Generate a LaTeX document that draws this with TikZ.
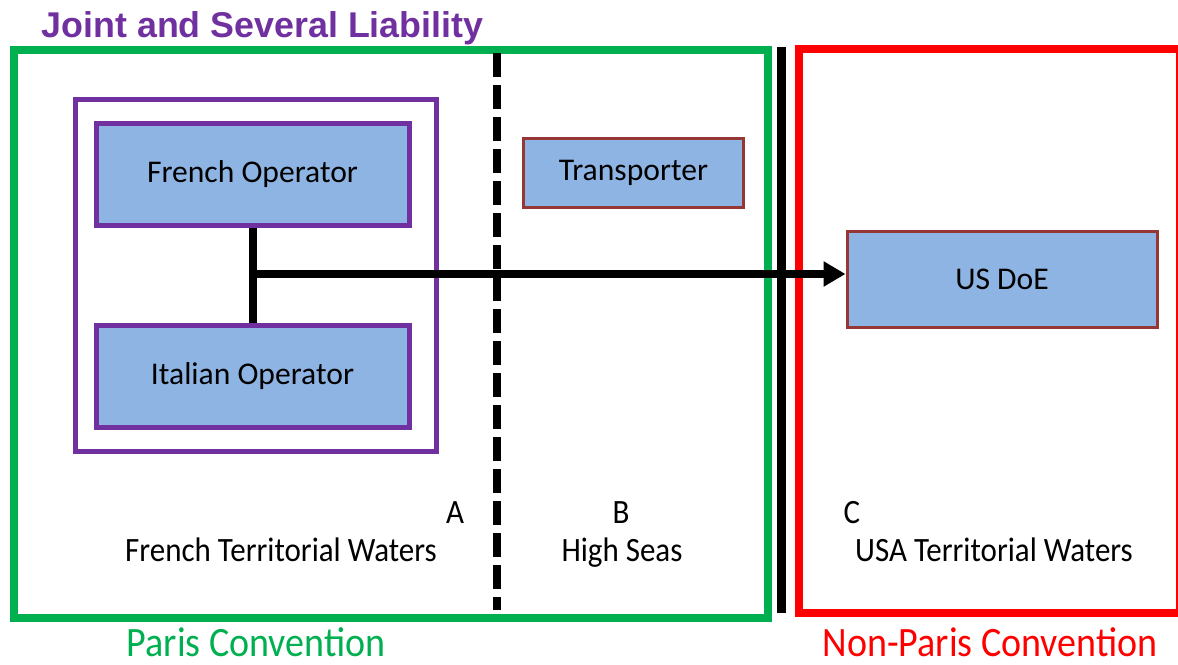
\documentclass[tikz,border=0pt]{standalone}
\usepackage{fontspec}
\setmainfont{Carlito}
\newfontfamily\headfont{Liberation Sans}
\usepackage{tikz}
\usetikzlibrary{arrows.meta}

\definecolor{opblue}{HTML}{8EB4E3}
\definecolor{jointpurple}{HTML}{7030A0}
\definecolor{parisgreen}{HTML}{00B050}
\definecolor{partybrown}{HTML}{953735}
\newcommand{\tall}[1]{\scalebox{1}[1.1]{#1}}

\begin{document}
\begin{tikzpicture}[
		x=0.5pt, y=-0.5pt,
		every node/.style={inner sep=0pt, font=\fontsize{15.8}{18}\selectfont},
		operator/.style={rectangle, draw=jointpurple, fill=opblue, line width=2.5pt,
			minimum width=156.5pt, minimum height=51pt},
		party/.style={rectangle, draw=partybrown, fill=opblue, line width=1.5pt},
		waters/.style={anchor=base, font=\fontsize{15.5}{18}\selectfont},
		convention/.style={anchor=base, font=\fontsize{19}{22}\selectfont}
	]
  \useasboundingbox (0,0) rectangle (1178,664);

  % zones
  \draw [parisgreen, line width=4pt] (14,49.5) rectangle (767.5,618);
  \draw [red, line width=3.75pt] (799,49) rectangle (1180,613);
  \draw [line width=4.5pt] (781.5,47) -- (781.5,613);
  \draw [line width=4pt, dash pattern=on 12pt off 4pt] (497,53) -- (497,610);
  \draw [jointpurple, line width=2.5pt] (75,99) rectangle (436,451);

  \node (title) [anchor=base, text=jointpurple, font=\headfont\bfseries\fontsize{17.9}{20}\selectfont]
    at (262.5,38) {Joint and Several Liability};

  \node (french) [operator] at (252.5,174) {French Operator};
  \node (italian) [operator] at (252.5,376) {Italian Operator};
  \node (transporter) [party, minimum width=110pt, minimum height=34.5pt] at (633.5,173) {Transporter};
  \node (usdoe) [party, minimum width=155pt, minimum height=48pt] at (1002,279) {US DoE};
  \coordinate (joint) at (252.5,274);

  \draw [line width=4pt] (french.south) -- (italian.north);
  \draw [line width=4pt, -{Triangle[length=11pt, width=12pt]}] (joint) -- (joint -| usdoe.west);

  \node (a) [waters] at (455,523) {\tall{A}};
  \node (b) [waters] at (621,523) {\tall{B}};
  \node (c) [waters] at (852,523) {\tall{C}};
  \node (frenchwaters) [waters] at (281,561) {\tall{French Territorial Waters}};
  \node (highseas) [waters] at (622,561) {\tall{High Seas}};
  \node (usawaters) [waters] at (994,561) {\tall{USA Territorial Waters}};

  \node (paris) [convention, text=parisgreen] at (256,656) {\tall{Paris Convention}};
  \node (nonparis) [convention, text=red] at (990,656) {\tall{Non-Paris Convention}};
\end{tikzpicture}
\end{document}
